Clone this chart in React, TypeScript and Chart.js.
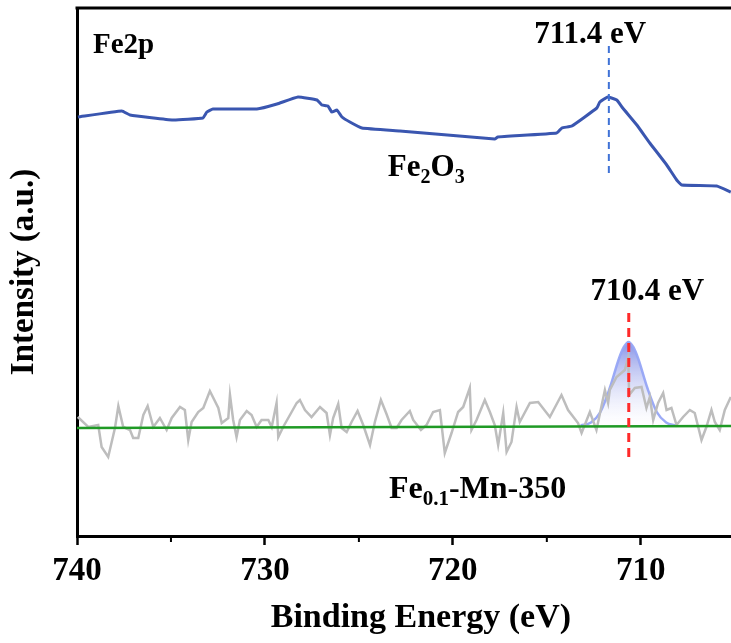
import React, { useEffect, useRef } from 'react';
import { Chart, registerables } from 'chart.js';

Chart.register(...registerables);

// ---------- DATA ----------
const X_MIN = 705.2;
const X_MAX = 740;
const xTickValues = [740, 735, 730, 725, 720, 715, 710];
const xTickLabels = [740, 730, 720, 710];

// Fe2O3 Fe 2p spectrum (binding energy eV / intensity a.u.)
const fe2o3Energy = [
  739.95, 737.61, 737.18, 734.89, 733.3, 733.09, 732.77, 730.43, 729.36, 728.24,
  727.23, 726.97, 726.65, 726.44, 726.17, 725.9, 725.48, 724.84, 722.82, 717.77,
  717.61, 714.47, 714.2, 713.67, 712.34, 712.18, 711.76, 711.28, 710.96, 710.21,
  709.52, 708.62, 708.09, 707.82, 705.96, 705.21,
];
const fe2o3Intensity = [
  419, 425, 421, 416, 418, 424, 427, 427, 432, 439,
  436, 431, 430, 424, 426, 419, 414, 408, 405, 397,
  399, 403, 408, 410, 428, 434, 439, 436, 428, 411,
  393, 371, 356, 351, 350, 344,
];

// Fe0.1-Mn-350 raw spectrum
const feMnEnergy = [
  739.96, 739.4, 738.87, 738.69, 738.34, 737.98, 737.8, 737.54, 737.18, 737.01,
  736.74, 736.47, 736.24, 735.94, 735.59, 735.23, 734.96, 734.52, 734.26, 734.08,
  733.9, 733.55, 733.28, 732.93, 732.48, 732.3, 731.95, 731.86, 731.69, 731.51,
  731.33, 730.97, 730.71, 730.44, 730.18, 729.82, 729.64, 729.38, 729.29, 729.03,
  728.58, 728.31, 728.14, 727.87, 727.52, 727.07, 726.72, 726.54, 726.37, 726.1,
  725.92, 725.65, 725.39, 725.07, 724.77, 724.41, 724.15, 723.83, 723.53, 723.26,
  722.99, 722.73, 722.29, 722.11, 721.7, 721.4, 721.05, 720.69, 720.43, 720.07,
  719.72, 719.45, 719.1, 719.01, 718.74, 718.3, 718.03, 717.77, 717.59, 717.32,
  717.14, 716.88, 716.61, 716.44, 715.9, 715.46, 714.84, 714.22, 713.87, 713.34,
  713.15, 712.71, 712.36, 711.91, 711.74, 711.65, 711.29, 710.85, 710.67, 710.62,
  710.32, 709.96, 709.7, 709.52, 709.34, 709.08, 708.81, 708.63, 708.37, 708.1,
  707.75, 707.39, 707.13, 706.77, 706.51, 706.24, 706.06, 705.8, 705.53, 705.21,
];
const feMnIntensity = [
  119, 109, 111, 89, 79, 108, 130, 109, 106, 98,
  98, 121, 130, 109, 118, 106, 118, 129, 126, 96,
  114, 124, 128, 145, 128, 113, 118, 141, 116, 99,
  116, 125, 121, 109, 116, 116, 109, 133, 99, 109,
  124, 133, 136, 126, 119, 129, 123, 101, 118, 132,
  108, 104, 114, 125, 111, 91, 114, 136, 122, 108,
  108, 116, 125, 116, 106, 111, 124, 126, 83, 103,
  124, 129, 148, 106, 116, 136, 124, 111, 91, 123,
  84, 94, 129, 114, 133, 134, 119, 141, 126, 113,
  103, 124, 106, 146, 133, 146, 159, 166, 179, 141,
  148, 149, 128, 139, 116, 133, 143, 126, 128, 111,
  119, 126, 123, 96, 109, 126, 114, 106, 126, 139,
];

// fitted background
const baselineEnergy = [740, 705.2];
const baselineIntensity = [108, 110];

// fitted Fe peak (710.4 eV component)
const peakEnergy = [713.2, 712.65, 712.15, 711.65, 711.15, 710.9, 710.65, 710.4, 710.15, 709.65, 709.15, 708.65, 708.15];
const peakIntensity = [110.5, 113.5, 124, 148, 178, 189, 194, 189, 178, 148, 124, 113.5, 110.5];
const PEAK_BASE = 110;

// peak position markers
const fe2o3MarkerEnergy = [711.7, 711.7];
const fe2o3MarkerIntensity = [363, 494];
const feMnMarkerEnergy = [710.64, 710.64];
const feMnMarkerIntensity = [79, 229];

// ---------- helpers ----------
const zip = (xs: number[], ys: number[]) => xs.map((x, i) => ({ x, y: ys[i] }));
const SERIF = '"Liberation Serif", "Times New Roman", serif';

type Part = { t: string; sub?: boolean };
type Note = { x: number; y: number; parts: Part[]; size: number; align: 'left' | 'center' };

const notes: Note[] = [
  { x: 739.15, y: 483, parts: [{ t: 'Fe2p' }], size: 29, align: 'left' },
  { x: 712.69, y: 493, parts: [{ t: '711.4 eV' }], size: 31, align: 'center' },
  { x: 723.46, y: 360, parts: [{ t: 'Fe' }, { t: '2', sub: true }, { t: 'O' }, { t: '3', sub: true }], size: 31, align: 'left' },
  { x: 709.65, y: 236, parts: [{ t: '710.4 eV' }], size: 31, align: 'center' },
  { x: 723.4, y: 38, parts: [{ t: 'Fe' }, { t: '0.1', sub: true }, { t: '-Mn-350' }], size: 32, align: 'left' },
];

const drawParts = (ctx: CanvasRenderingContext2D, parts: Part[], size: number, x: number, y: number, align: 'left' | 'center') => {
  const subSize = Math.round(size * 0.65);
  const widthOf = (p: Part) => {
    ctx.font = `bold ${p.sub ? subSize : size}px ${SERIF}`;
    return ctx.measureText(p.t).width;
  };
  const total = parts.reduce((s, p) => s + widthOf(p), 0);
  let cx = align === 'center' ? x - total / 2 : x;
  ctx.textAlign = 'left';
  ctx.textBaseline = 'alphabetic';
  ctx.fillStyle = '#000';
  for (const p of parts) {
    ctx.font = `bold ${p.sub ? subSize : size}px ${SERIF}`;
    ctx.fillText(p.t, cx, p.sub ? y + size * 0.22 : y);
    cx += ctx.measureText(p.t).width;
  }
};

const decorPlugin = {
  id: 'decor',
  afterDraw(chart: any) {
    const { ctx, chartArea, scales } = chart;
    const xs = scales.x;
    const ys = scales.y;
    ctx.save();
    // top frame line
    ctx.strokeStyle = '#000';
    ctx.lineWidth = 3;
    ctx.beginPath();
    ctx.moveTo(chartArea.left - 1.5, chartArea.top);
    ctx.lineTo(chartArea.right, chartArea.top);
    ctx.stroke();
    // minor ticks
    ctx.lineWidth = 2;
    xs.ticks.forEach((t: any) => {
      if (!xTickLabels.includes(t.value)) {
        const px = xs.getPixelForValue(t.value);
        ctx.beginPath();
        ctx.moveTo(px, chartArea.bottom);
        ctx.lineTo(px, chartArea.bottom + 6);
        ctx.stroke();
      }
    });
    // annotations
    for (const n of notes) {
      drawParts(ctx, n.parts, n.size, xs.getPixelForValue(n.x), ys.getPixelForValue(n.y), n.align);
    }
    // x axis title
    ctx.font = `bold 34px ${SERIF}`;
    ctx.fillStyle = '#000';
    ctx.textAlign = 'center';
    ctx.textBaseline = 'middle';
    ctx.fillText('Binding Energy (eV)', xs.getPixelForValue(721.7), chartArea.bottom + 82);
    ctx.restore();
  },
};

export default function App() {
  const ref = useRef<HTMLCanvasElement>(null);

  useEffect(() => {
    document.body.style.margin = '0';
    if (!ref.current) return;
    const chart = new Chart(ref.current, {
      type: 'line',
      data: {
        datasets: [
          {
            label: 'fe2o3Marker',
            data: zip(fe2o3MarkerEnergy, fe2o3MarkerIntensity),
            borderColor: '#3f72d6',
            borderWidth: 2,
            borderDash: [7, 5],
            pointRadius: 0,
            order: 0,
          },
          {
            label: 'feMnMarker',
            data: zip(feMnMarkerEnergy, feMnMarkerIntensity),
            borderColor: '#ff2a2a',
            borderWidth: 3,
            borderDash: [9, 6],
            pointRadius: 0,
            order: 1,
          },
          {
            label: 'Fe2O3',
            data: zip(fe2o3Energy, fe2o3Intensity),
            borderColor: '#3a56b0',
            borderWidth: 3,
            pointRadius: 0,
            tension: 0.1,
            order: 2,
          },
          {
            label: 'baseline',
            data: zip(baselineEnergy, baselineIntensity),
            borderColor: '#1f9a25',
            borderWidth: 2.5,
            pointRadius: 0,
            order: 3,
          },
          {
            label: 'Fe0.1-Mn-350',
            data: zip(feMnEnergy, feMnIntensity),
            borderColor: '#bdbdbd',
            borderWidth: 2.5,
            pointRadius: 0,
            order: 4,
          },
          {
            label: 'peak',
            data: zip(peakEnergy, peakIntensity),
            borderColor: 'rgba(150,165,245,0.95)',
            borderWidth: 2.5,
            pointRadius: 0,
            cubicInterpolationMode: 'monotone',
            fill: { value: PEAK_BASE },
            backgroundColor: (c: any) => {
              const { chart: ch } = c;
              const { ctx, chartArea, scales } = ch;
              if (!chartArea || !scales.y) return 'rgba(120,135,230,0.4)';
              const y0 = scales.y.getPixelForValue(194);
              const y1 = scales.y.getPixelForValue(PEAK_BASE);
              const g = ctx.createLinearGradient(0, y0, 0, y1);
              g.addColorStop(0, 'rgba(105,120,225,0.8)');
              g.addColorStop(1, 'rgba(255,255,255,0.2)');
              return g;
            },
            order: 5,
          },
        ],
      },
      options: {
        responsive: false,
        animation: false,
        layout: { padding: { top: 8, right: 0, bottom: 0, left: 0 } },
        plugins: {
          legend: { display: false },
          tooltip: { enabled: false },
        },
        scales: {
          x: {
            type: 'linear',
            reverse: true,
            min: X_MIN,
            max: X_MAX,
            afterBuildTicks: (s: any) => {
              s.ticks = xTickValues.map((v) => ({ value: v }));
            },
            afterFit: (s: any) => {
              s.height = 107;
            },
            ticks: {
              autoSkip: false,
              maxRotation: 0,
              padding: 7,
              color: '#000',
              font: { family: SERIF, size: 33, weight: 'bold' },
              callback: (v: any) => (xTickLabels.includes(Number(v)) ? String(v) : ''),
            },
            grid: {
              drawOnChartArea: false,
              tickLength: 9,
              tickWidth: 2.5,
              tickColor: (c: any) => (c.tick && xTickLabels.includes(c.tick.value) ? '#000' : 'rgba(0,0,0,0)'),
            },
            border: { display: true, color: '#000', width: 3 },
          },
          y: {
            type: 'linear',
            min: 0,
            max: 528,
            afterFit: (s: any) => {
              s.width = 77;
            },
            ticks: { display: false },
            grid: { display: false, drawTicks: false },
            border: { display: true, color: '#000', width: 3 },
            title: {
              display: true,
              text: 'Intensity (a.u.)',
              color: '#000',
              font: { family: SERIF, size: 33, weight: 'bold' },
              padding: { top: 5, bottom: 0 },
            },
          },
        },
      },
      plugins: [decorPlugin],
    });
    return () => chart.destroy();
  }, []);

  return (
    <div style={{ position: 'absolute', left: 0, top: 0 }}>
      <canvas ref={ref} width={731} height={643} style={{ display: 'block' }} />
    </div>
  );
}
